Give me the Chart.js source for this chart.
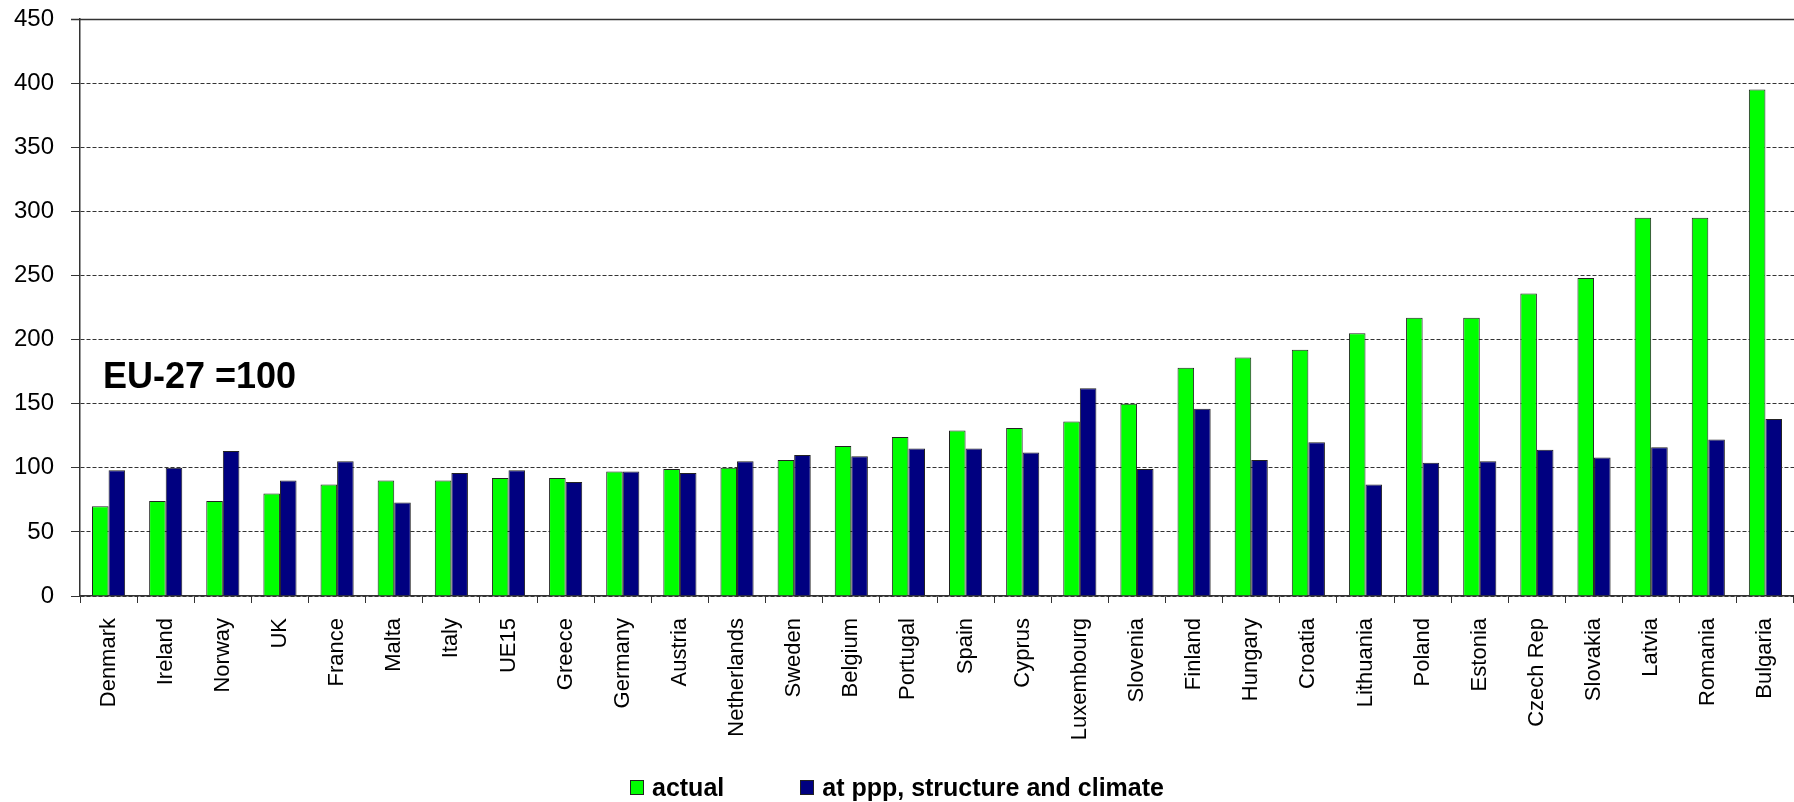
<!DOCTYPE html>
<html>
<head>
<meta charset="utf-8">
<script src="https://cdn.jsdelivr.net/npm/chart.js@4.4.1/dist/chart.umd.min.js"></script>
<style>
  html, body { margin: 0; padding: 0; background: #fff; }
  #wrap { position: relative; width: 1794px; height: 802px; }
  #legend {
    position: absolute; left: 0; top: 773px; width: 1794px;
    display: flex; justify-content: center; align-items: center;
    font: bold 25px "Liberation Sans", Arial, sans-serif; color: #000;
  }
  #legend .item { display: flex; align-items: center; }
  #legend .item + .item { margin-left: 76px; }
  #legend .box { width: 12px; height: 13px; border: 1px solid #222; margin-right: 8px; }
</style>
</head>
<body>
<div id="wrap">
  <canvas id="energyChart" width="1794" height="802"></canvas>
  <div id="legend"></div>
</div>
<script>
const countries = ['Denmark', 'Ireland', 'Norway', 'UK', 'France', 'Malta', 'Italy', 'UE15', 'Greece', 'Germany',
  'Austria', 'Netherlands', 'Sweden', 'Belgium', 'Portugal', 'Spain', 'Cyprus', 'Luxembourg', 'Slovenia', 'Finland',
  'Hungary', 'Croatia', 'Lithuania', 'Poland', 'Estonia', 'Czech Rep', 'Slovakia', 'Latvia', 'Romania', 'Bulgaria'];

const actual = [70, 74, 74, 80, 87, 90, 90, 92, 92, 97,
  99, 100, 106, 117, 124, 129, 131, 136, 150, 178,
  186, 192, 205, 217, 217, 236, 248, 295, 295, 395];

const atPpp = [98, 100, 113, 90, 105, 73, 96, 98, 89, 97,
  96, 105, 110, 109, 115, 115, 112, 162, 99, 146,
  106, 120, 87, 104, 105, 114, 108, 116, 122, 138];

const yTicks = [0, 50, 100, 150, 200, 250, 300, 350, 400, 450];
const seriesNames = ['actual', 'at ppp, structure and climate'];
const seriesColors = ['#00ff00', '#000080'];
const noteText = 'EU-27 =100';

const FONT = '"Liberation Sans", Arial, sans-serif';

// сплошная верхняя линия и подпись EU-27
const framePlugin = {
  id: 'frame',
  afterDraw(chart) {
    const { ctx, chartArea, scales } = chart;
    ctx.save();
    ctx.strokeStyle = '#333';
    ctx.lineWidth = 1.5;
    ctx.beginPath();
    ctx.moveTo(chartArea.left - 9, chartArea.top + 0.5);
    ctx.lineTo(chartArea.right, chartArea.top + 0.5);
    ctx.stroke();

    ctx.fillStyle = '#000';
    ctx.font = 'bold 36px ' + FONT;
    ctx.textBaseline = 'middle';
    ctx.fillText(noteText, chartArea.left + 23, scales.y.getPixelForValue(170));
    ctx.restore();
  }
};

new Chart(document.getElementById('energyChart').getContext('2d'), {
  type: 'bar',
  data: {
    labels: countries,
    datasets: [
      { label: seriesNames[0], data: actual, backgroundColor: seriesColors[0], borderColor: '#222', borderWidth: 1 },
      { label: seriesNames[1], data: atPpp, backgroundColor: seriesColors[1], borderColor: '#222', borderWidth: 1 },
    ],
  },
  options: {
    responsive: false,
    animation: false,
    layout: { padding: { top: 19, right: 0, bottom: 36, left: 0 } },
    datasets: { bar: { categoryPercentage: 0.58, barPercentage: 1.0 } },
    plugins: {
      legend: { display: false },
      tooltip: { enabled: false },
    },
    scales: {
      x: {
        grid: { display: true, drawOnChartArea: false, tickLength: 7, tickColor: '#333', offset: true },
        border: { display: true, color: '#333', width: 1.5 },
        ticks: {
          autoSkip: false, minRotation: 90, maxRotation: 90, padding: 15,
          color: '#000', font: { family: FONT, size: 22 },
        },
        afterFit: scale => {
          scale.height = 170;
          scale.paddingLeft = 0;
          scale.paddingRight = 0;
        },
      },
      y: {
        min: 0,
        max: 450,
        afterBuildTicks: scale => { scale.ticks = yTicks.map(v => ({ value: v })); },
        grid: { color: '#333', lineWidth: 1, tickLength: 9, tickColor: '#333' },
        border: { display: true, color: '#333', width: 1.5, dash: [4, 2] },
        ticks: { padding: 17, color: '#000', font: { family: FONT, size: 24 } },
        afterFit: scale => {
          scale.width = 80;
          scale.paddingTop = 0;
          scale.paddingBottom = 0;
        },
      },
    },
  },
  plugins: [framePlugin],
});

document.getElementById('legend').innerHTML = seriesNames.map((name, i) =>
  `<div class="item"><span class="box" style="background:${seriesColors[i]}"></span>${name}</div>`
).join('');
</script>
</body>
</html>
